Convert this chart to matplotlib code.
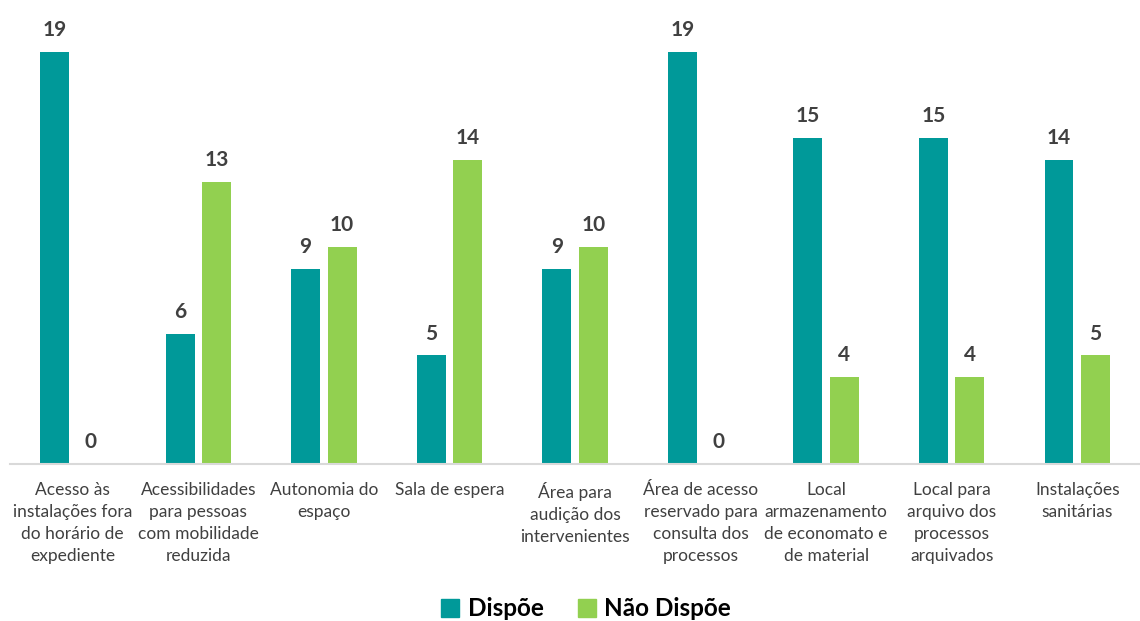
import numpy as np
import matplotlib
matplotlib.use("Agg")
import matplotlib.pyplot as plt
from matplotlib.patches import Patch

categories = [
    "Acesso às\ninstalações fora\ndo horário de\nexpediente",
    "Acessibilidades\npara pessoas\ncom mobilidade\nreduzida",
    "Autonomia do\nespaço",
    "Sala de espera",
    "Área para\naudição dos\nintervenientes",
    "Área de acesso\nreservado para\nconsulta dos\nprocessos",
    "Local\narmazenamento\nde economato e\nde material",
    "Local para\narquivo dos\nprocessos\narquivados",
    "Instalações\nsanitárias",
]
dispoe = [19, 6, 9, 5, 9, 19, 15, 15, 14]
nao_dispoe = [0, 13, 10, 14, 10, 0, 4, 4, 5]

teal = "#009999"
green = "#92D050"
text_color = "#404040"

plt.rcParams["font.family"] = ["Lato", "DejaVu Sans"]

fig = plt.figure(figsize=(11.4, 6.21), dpi=100)
ax = fig.add_axes([10 / 1140, 157 / 621, 1130 / 1140, 445 / 621])

x = np.arange(len(categories))
w = 0.23
off = 0.145
b1 = ax.bar(x - off, dispoe, w, color=teal)
b2 = ax.bar(x + off, nao_dispoe, w, color=green)

for bars in (b1, b2):
    for r in bars:
        h = r.get_height()
        ax.text(r.get_x() + r.get_width() / 2, h + 0.55, f"{int(h)}",
                ha="center", va="bottom", fontsize=15, fontweight="bold",
                color=text_color)

ax.set_xlim(-0.5, len(categories) - 0.5)
ax.set_ylim(0, 20.5)
ax.set_xticks(x)
ax.set_xticklabels(categories, fontsize=12.5, color=text_color, linespacing=1.45)
ax.tick_params(axis="x", length=0, pad=13)
ax.set_yticks([])
for s in ("top", "right", "left"):
    ax.spines[s].set_visible(False)
ax.spines["bottom"].set_color("#D9D9D9")
ax.spines["bottom"].set_linewidth(1.5)

handles = [Patch(color=teal, label="Dispõe"), Patch(color=green, label="Não Dispõe")]
fig.legend(handles=handles, loc="center", bbox_to_anchor=(586 / 1140, 12 / 621),
           ncol=2, frameon=False, prop={"size": 17.5, "weight": "bold"},
           handlelength=0.75, handleheight=0.75, handletextpad=0.35,
           columnspacing=1.4)

fig.savefig("out.png", dpi=100)
